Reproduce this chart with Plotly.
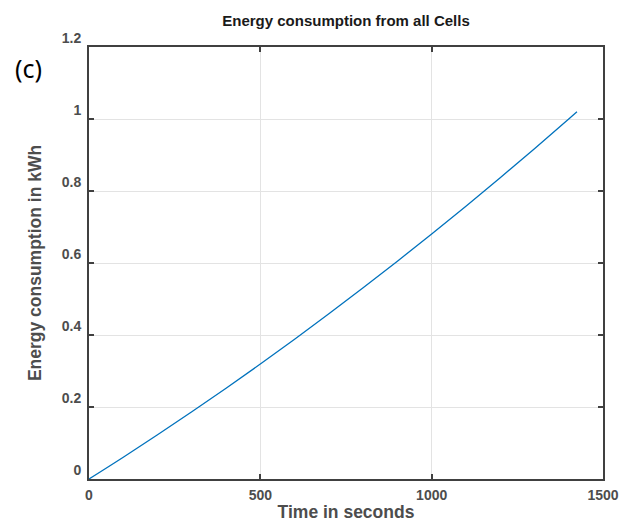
import plotly.graph_objects as go

time_s = [0, 100, 200, 300, 400, 500, 600, 700, 800, 900, 1000, 1100, 1200, 1300, 1400, 1424]
energy_kwh = [0, 0.0605, 0.1227, 0.1866, 0.2521, 0.3193, 0.3882, 0.4588, 0.5311,
              0.6050, 0.6806, 0.7579, 0.8369, 0.9176, 1.0000, 1.020]

x_ticks = [0, 500, 1000, 1500]
y_ticks = [0, 0.2, 0.4, 0.6, 0.8, 1.0, 1.2]
y_labels = ["0", "0.2", "0.4", "0.6", "0.8", "1", "1.2"]

fig = go.Figure()
fig.add_trace(go.Scatter(x=time_s, y=energy_kwh, mode="lines", line_shape="spline",
                         line=dict(color="#0072BD", width=1.3), showlegend=False))

axis_common = dict(showline=True, linecolor="#404040", linewidth=2, mirror="ticks",
                   ticks="inside", ticklen=5, tickwidth=2, tickcolor="#404040",
                   showgrid=True, gridcolor="#e3e3e3", gridwidth=1, zeroline=False,
                   automargin=False,
                   tickfont=dict(family="Liberation Sans", size=14, color="#4d4d4d", weight="bold"))

fig.update_xaxes(range=[0, 1500], tickvals=x_ticks, ticklabelstandoff=2, **axis_common,
                 title=dict(text="<b>Time in seconds</b>", standoff=12,
                            font=dict(family="Liberation Sans", size=17.5, color="#4d4d4d")))
fig.update_yaxes(range=[0, 1.2], tickvals=y_ticks, ticktext=y_labels,
                 ticklabelstandoff=3, ticklabelshift=-9, **axis_common,
                 title=dict(text="<b>Energy consumption in kWh</b>", standoff=16,
                            font=dict(family="Liberation Sans", size=17.5, color="#4d4d4d")))

fig.update_layout(
    width=631, height=522,
    margin=dict(l=89, r=28, t=47, b=43),
    paper_bgcolor="white", plot_bgcolor="white",
    title=dict(text="<b>Energy consumption from all Cells</b>", x=(89 + 603) / 2 / 631, xanchor="center",
               y=1 - 21 / 522, yanchor="middle",
               font=dict(family="Liberation Sans", size=15, color="#1a1a1a")),
    annotations=[dict(text="(c)", xref="paper", yref="paper", x=(28 - 89) / 514, y=1 + (47 - 68) / 432,
                      xanchor="center", yanchor="middle", showarrow=False,
                      font=dict(family="Noto Sans", size=25, color="black"))],
)

fig.write_html("out.html")
